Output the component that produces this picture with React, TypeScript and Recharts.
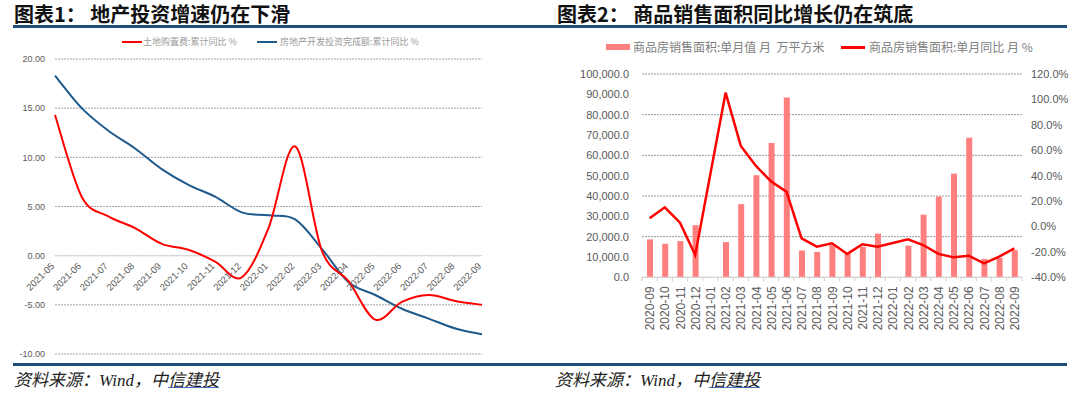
import React from 'react';
import { ComposedChart, Line, Bar, XAxis, YAxis, ReferenceLine, CartesianGrid } from 'recharts';

// ---------- Chart 1 data ----------
const months1 = ['2021-05', '2021-06', '2021-07', '2021-08', '2021-09', '2021-10', '2021-11', '2021-12', '2022-01', '2022-02', '2022-03', '2022-04', '2022-05', '2022-06', '2022-07', '2022-08', '2022-09'];
const landCost = [14.3, 6.0, 4.0, 2.8, 1.2, 0.6, -0.6, -2.2, 2.8, 11.1, 0.5, -2.6, -6.5, -4.7, -4.0, -4.6, -5.0];
const devInvest = [18.3, 15.0, 12.7, 10.9, 8.8, 7.2, 6.0, 4.4, 4.1, 3.7, 0.7, -2.7, -4.0, -5.4, -6.4, -7.4, -8.0];
const ticks1 = [-10, -5, 0, 5, 10, 15, 20];

// ---------- Chart 2 data ----------
const months2 = ['2020-09', '2020-10', '2020-11', '2020-12', '2021-01', '2021-02', '2021-03', '2021-04', '2021-05', '2021-06', '2021-07', '2021-08', '2021-09', '2021-10', '2021-11', '2021-12', '2022-01', '2022-02', '2022-03', '2022-04', '2022-05', '2022-06', '2022-07', '2022-08', '2022-09'];
const salesArea = [18650, 16500, 17800, 25650, null, 17300, 36000, 50200, 66000, 88400, 13200, 12500, 15800, 12000, 15000, 21500, null, 15600, 30800, 39700, 51000, 68700, 9000, 9500, 13300];
const salesYoy = [6.5, 15.1, 3.0, -22.4, null, 105.3, 63.4, 47.6, 35.3, 27.4, -9.3, -15.9, -13.2, -21.6, -14.0, -15.9, null, -10.1, -14.6, -21.6, -24.3, -23.0, -29.0, -23.7, -17.2];
const areaTicks = [0, 10000, 20000, 30000, 40000, 50000, 60000, 70000, 80000, 90000, 100000];
const yoyTicks = [-40, -20, 0, 20, 40, 60, 80, 100, 120];

const data1 = months1.map((m, i) => ({ month: m, land: landCost[i], invest: devInvest[i] }));
const data2 = months2.map((m, i) => ({ month: m, area: salesArea[i], yoy: salesYoy[i] }));

// Excel-like smoothed line (Catmull-Rom style bezier)
function smoothCurve(context: any) {
  let xs: number[] = [];
  let ys: number[] = [];
  return {
    areaStart() {},
    areaEnd() {},
    lineStart() { xs = []; ys = []; },
    point(x: number, y: number) { xs.push(+x); ys.push(+y); },
    lineEnd() {
      const n = xs.length;
      if (!n) return;
      context.moveTo(xs[0], ys[0]);
      if (n === 1) return;
      for (let i = 0; i < n - 1; i++) {
        const i0 = Math.max(i - 1, 0);
        const i3 = Math.min(i + 2, n - 1);
        context.bezierCurveTo(
          xs[i] + (xs[i + 1] - xs[i0]) / 6, ys[i] + (ys[i + 1] - ys[i0]) / 6,
          xs[i + 1] - (xs[i3] - xs[i]) / 6, ys[i + 1] - (ys[i3] - ys[i]) / 6,
          xs[i + 1], ys[i + 1]
        );
      }
    },
  };
}

const SANS = "'Liberation Sans', Arial, sans-serif";
const CJK = "'Noto Sans CJK SC', sans-serif";

// Chart 1 layout
const TOP1 = 59;
const BOTTOM1 = 354;
const ZERO_Y1 = TOP1 + (20 / 30) * (BOTTOM1 - TOP1);

const Tick1 = (props: any) => {
  const { x, payload } = props;
  return (
    <text
      transform={`translate(${x},${ZERO_Y1 + 11}) rotate(-45)`}
      textAnchor="end"
      fontSize={9.5}
      fill="#595959"
      fontFamily={SANS}
    >
      {payload.value}
    </text>
  );
};

// Chart 2 layout
const TOP2 = 74;
const BOTTOM2 = 277.3;
const PLOT2_W = 380;
const BAND2 = PLOT2_W / months2.length;

const Tick2 = (props: any) => {
  const { x, payload, index } = props;
  return (
    <g>
      <line x1={x - BAND2 / 2} x2={x - BAND2 / 2} y1={BOTTOM2} y2={BOTTOM2 + 4} stroke="#d0d0d0" />
      {index === months2.length - 1 ? (
        <line x1={x + BAND2 / 2} x2={x + BAND2 / 2} y1={BOTTOM2} y2={BOTTOM2 + 4} stroke="#d0d0d0" />
      ) : null}
      <text
        transform={`translate(${x + 4.5},${BOTTOM2 + 9}) rotate(-90)`}
        textAnchor="end"
        fontSize={12}
        fill="#595959"
        fontFamily={SANS}
      >
        {payload.value}
      </text>
    </g>
  );
};

const abs = (s: any) => ({ position: 'absolute' as const, ...s });

export default function App() {
  return (
    <div style={abs({ left: 0, top: 0, width: 1080, height: 394, background: '#fff', overflow: 'hidden' })}>
      {/* Titles */}
      <div style={abs({ left: 14, top: 3, fontSize: 20, lineHeight: '22px', fontWeight: 700, fontFamily: CJK, color: '#111', whiteSpace: 'pre' })}>
        图表1： 地产投资增速仍在下滑
      </div>
      <div style={abs({ left: 557, top: 3, fontSize: 20, lineHeight: '22px', fontWeight: 700, fontFamily: CJK, color: '#111', whiteSpace: 'pre' })}>
        图表2： 商品销售面积同比增长仍在筑底
      </div>
      {/* Rules */}
      <div style={abs({ left: 13, top: 25, width: 1054, height: 3, background: '#1F4E79' })} />
      <div style={abs({ left: 13, top: 363, width: 1054, height: 2.5, background: '#1F4E79' })} />

      {/* Legend chart 1 */}
      <div style={abs({ left: 122, top: 41, width: 20, height: 2, background: '#FF0000' })} />
      <div style={abs({ left: 143, top: 36, fontSize: 9, lineHeight: '12px', fontFamily: CJK, color: '#9a9a9a', whiteSpace: 'pre' })}>
        土地购置费:累计同比 %
      </div>
      <div style={abs({ left: 257, top: 41, width: 20, height: 2, background: '#1F5A8C' })} />
      <div style={abs({ left: 280, top: 36, fontSize: 9, lineHeight: '12px', fontFamily: CJK, color: '#9a9a9a', whiteSpace: 'pre' })}>
        房地产开发投资完成额:累计同比 %
      </div>

      {/* Legend chart 2 */}
      <div style={abs({ left: 606, top: 44, width: 24, height: 6, background: '#FF7F7F' })} />
      <div style={abs({ left: 633, top: 39, fontSize: 12, lineHeight: '16px', fontFamily: CJK, color: '#808080', whiteSpace: 'pre' })}>
        商品房销售面积:单月值 月  万平方米
      </div>
      <div style={abs({ left: 841, top: 46, width: 24, height: 2.5, background: '#FF0000' })} />
      <div style={abs({ left: 869, top: 39, fontSize: 12, lineHeight: '16px', fontFamily: CJK, color: '#808080', whiteSpace: 'pre' })}>
        商品房销售面积:单月同比 月 %
      </div>

      {/* Chart 1 */}
      <div style={abs({ left: 0, top: 0 })}>
        <ComposedChart width={540} height={394} data={data1} margin={{ top: TOP1, right: 0, bottom: 20, left: 0 }}>
          <CartesianGrid vertical={false} stroke="#a0a0a0" strokeDasharray="2 1" yAxisId="l" />
          <XAxis dataKey="month" height={20} interval={0} axisLine={false} tickLine={false} tick={<Tick1 />} />
          <YAxis
            yAxisId="l"
            domain={[-10, 20]}
            ticks={ticks1}
            width={55}
            axisLine={false}
            tickLine={false}
            tickSize={0}
            tickMargin={10}
            tickFormatter={(v: number) => v.toFixed(2)}
            tick={{ fontSize: 9, fill: '#595959', fontFamily: SANS }}
          />
          <YAxis
            yAxisId="r"
            orientation="right"
            domain={[-10, 20]}
            ticks={ticks1}
            width={58}
            axisLine={false}
            tickLine={false}
            tickSize={0}
            tickMargin={7}
            tickFormatter={(v: number) => v.toFixed(2)}
            tick={{ fontSize: 9, fill: '#808080', fontFamily: SANS }}
          />
          <ReferenceLine yAxisId="l" y={0} stroke="#d9d9d9" strokeWidth={1} />
          <Line yAxisId="l" dataKey="invest" type={smoothCurve as any} stroke="#1F5A8C" strokeWidth={2} dot={false} activeDot={false} isAnimationActive={false} />
          <Line yAxisId="l" dataKey="land" type={smoothCurve as any} stroke="#FF0000" strokeWidth={2} dot={false} activeDot={false} isAnimationActive={false} />
        </ComposedChart>
      </div>

      {/* Chart 2 */}
      <div style={abs({ left: 540, top: 0 })}>
        <ComposedChart width={540} height={394} data={data2} margin={{ top: TOP2, right: 0, bottom: 394 - BOTTOM2 - 60, left: 0 }}>
          <CartesianGrid vertical={false} stroke="#999" strokeDasharray="2 1" yAxisId="left" />
          <XAxis dataKey="month" height={60} interval={0} axisLine={{ stroke: '#d9d9d9' }} tickLine={false} tick={<Tick2 />} />
          <YAxis
            yAxisId="left"
            domain={[0, 100000]}
            ticks={areaTicks}
            width={102}
            axisLine={false}
            tickLine={false}
            tickSize={0}
            tickMargin={13}
            tickFormatter={(v: number) => v.toLocaleString('en-US', { minimumFractionDigits: 1, maximumFractionDigits: 1 })}
            tick={{ fontSize: 11, fill: '#595959', fontFamily: SANS }}
          />
          <YAxis
            yAxisId="right"
            orientation="right"
            domain={[-40, 120]}
            ticks={yoyTicks}
            width={58}
            axisLine={false}
            tickLine={false}
            tickSize={0}
            tickMargin={9}
            tickFormatter={(v: number) => v.toFixed(1) + '%'}
            tick={{ fontSize: 11, fill: '#595959', fontFamily: SANS }}
          />
          <Bar yAxisId="left" dataKey="area" fill="#FF7F7F" barSize={6} isAnimationActive={false} />
          <Line yAxisId="right" dataKey="yoy" type="linear" connectNulls stroke="#FF0000" strokeWidth={2.5} dot={false} activeDot={false} isAnimationActive={false} />
        </ComposedChart>
      </div>

      {/* Sources */}
      <div style={abs({ left: 14, top: 371, fontSize: 17, lineHeight: '20px', fontStyle: 'italic', fontFamily: "'Liberation Serif', 'Noto Sans CJK SC', serif", color: '#222', whiteSpace: 'pre' })}>
        资料来源：Wind，中<span style={{ textDecoration: 'underline', textDecorationColor: '#4472C4' }}>信建投</span>
      </div>
      <div style={abs({ left: 555, top: 371, fontSize: 17, lineHeight: '20px', fontStyle: 'italic', fontFamily: "'Liberation Serif', 'Noto Sans CJK SC', serif", color: '#222', whiteSpace: 'pre' })}>
        资料来源：Wind，中<span style={{ textDecoration: 'underline', textDecorationColor: '#4472C4' }}>信建投</span>
      </div>
    </div>
  );
}
